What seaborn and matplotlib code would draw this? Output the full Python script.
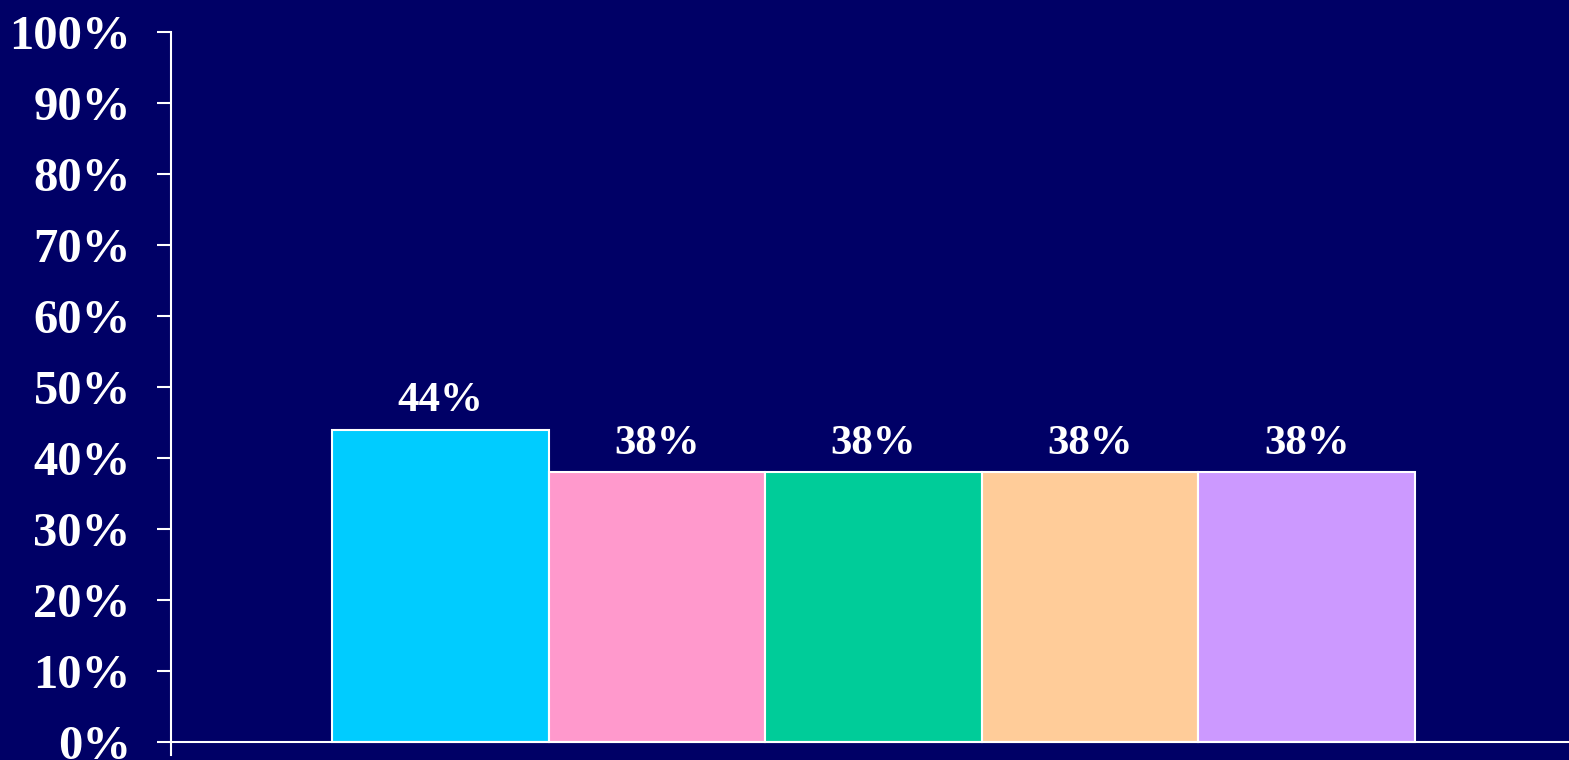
import pandas as pd
import seaborn as sns
import matplotlib.pyplot as plt

# Data ------------------------------------------------------------------------
groups = ['A', 'B', 'C', 'D', 'E']
values = [44, 38, 38, 38, 38]
colors = ['#00CCFF', '#FF99CC', '#00CC99', '#FFCC99', '#CC99FF']
yticks = list(range(0, 101, 10))
bg = '#000066'

df = pd.DataFrame({'group': groups, 'value': values})

sns.set_theme(style='ticks')
plt.rcParams['font.family'] = ['Liberation Serif', 'DejaVu Serif']
plt.rcParams['font.weight'] = 'bold'

# Plot ------------------------------------------------------------------------
fig = plt.figure(figsize=(15.69, 7.6), dpi=100, facecolor=bg)
ax = fig.add_axes([0.10899, 0.00658, 0.89101, 0.95132])
ax.set_facecolor(bg)

sns.barplot(
    data=df, x='group', y='value', hue='group', palette=colors,
    legend=False, width=1, saturation=1, edgecolor='white',
    linewidth=1.5, ax=ax
)
for cont in ax.containers:
    ax.bar_label(
        cont, labels=[f'{int(round(v))}%' for v in cont.datavalues],
        padding=7, color='white', fontsize=31, fontweight='bold'
    )

# Axes ------------------------------------------------------------------------
ax.set_xlim(-1.243, 5.211)
ax.set_ylim(-1.8, 100)
ax.set_yticks(yticks)
ax.set_yticklabels([f'{t}%' for t in yticks])
ax.tick_params(
    axis='y', colors='white', labelsize=35, length=10, width=1.5, pad=19
)
for lab in ax.get_yticklabels():
    lab.set_fontweight('bold')
ax.set_xticks([])
ax.set_xlabel('')
ax.set_ylabel('')
for s in ('top', 'right', 'bottom'):
    ax.spines[s].set_visible(False)
ax.spines['left'].set_color('white')
ax.spines['left'].set_linewidth(1.5)
ax.spines['left'].set_bounds(-1.8, 100)
ax.axhline(0, color='white', lw=1.5, zorder=5)

fig.savefig('out.png', dpi=100, facecolor=bg)
